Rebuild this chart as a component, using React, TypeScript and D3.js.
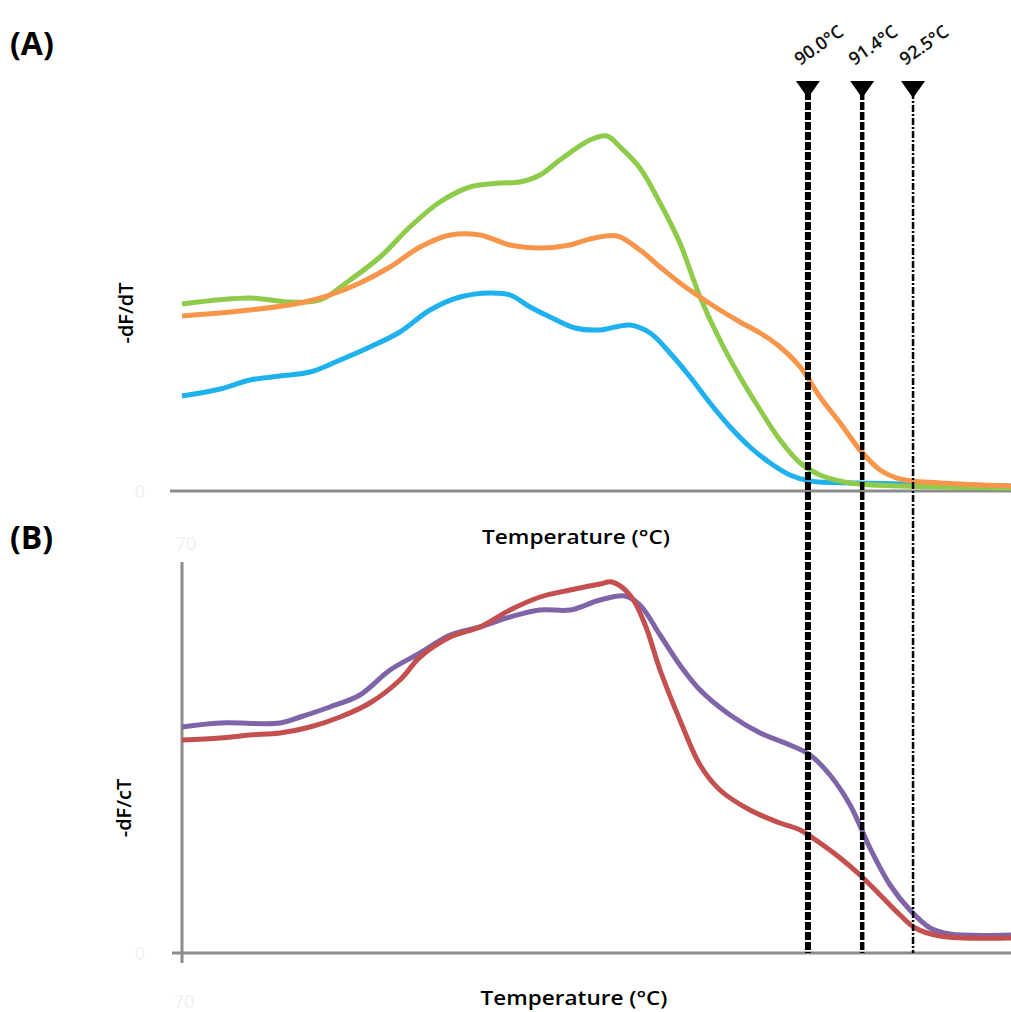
import React, { useEffect } from 'react';
import * as d3 from 'd3';

// temperature (°C) vs -dF/dT (arbitrary units, 0..100)
const greenA: [number, number][] = [
  [70, 46.75], [72.19, 48.25], [73.48, 47.25], [74.45, 47.75], [75.42, 52.75], [76.39, 58.5],
  [77.35, 66], [78.32, 72.25], [79.29, 76], [80.26, 77], [80.9, 77.25], [81.55, 79],
  [82.19, 82.75], [83.16, 87.75], [83.71, 88.75], [84.13, 86], [84.77, 80.75], [85.42, 72],
  [86.06, 62], [86.71, 48.5], [87.35, 37.75], [88.0, 28.5], [88.65, 20.25], [89.29, 12.75],
  [89.94, 7], [90.58, 4], [91.55, 2], [93.16, 1.25], [96.74, 0.75],
];

const orangeA: [number, number][] = [
  [70, 43.75], [72.19, 45.25], [73.81, 47], [74.77, 49], [75.74, 52], [76.71, 56],
  [77.68, 61], [78.65, 64], [79.61, 64], [80.58, 61.5], [81.55, 60.75], [82.52, 61.5],
  [83.16, 63], [84.03, 63.75], [84.77, 60.25], [85.42, 56], [86.06, 52], [86.71, 48.5],
  [87.35, 45.25], [88.0, 42.25], [88.65, 39.5], [89.29, 36], [89.94, 31], [90.58, 23.5],
  [91.23, 17], [91.87, 10.25], [92.52, 5.25], [93.16, 3], [94.45, 2], [96.74, 1.25],
];

const blueA: [number, number][] = [
  [70, 23.75], [71.23, 25.5], [72.19, 27.75], [73.16, 28.75], [74.13, 29.75], [75.1, 32.75],
  [76.06, 36], [77.03, 39.75], [78.0, 45.25], [78.97, 48.5], [79.94, 49.5], [80.58, 49],
  [81.23, 46], [81.87, 43.5], [82.68, 40.75], [83.48, 40.25], [84.45, 41.5], [85.1, 39.5],
  [85.74, 34.5], [86.39, 28.5], [87.03, 22], [87.68, 16], [88.32, 11], [88.97, 7],
  [89.61, 4], [90.26, 2.5], [91.87, 2], [96.74, 1.25],
];

const purpleB: [number, number][] = [
  [70, 56.5], [71.23, 57.5], [73.16, 57.5], [73.81, 59], [74.77, 61.5], [75.74, 64.5],
  [76.71, 70.75], [77.68, 75], [78.65, 79.5], [79.61, 81.5], [80.58, 84], [81.55, 85.75],
  [82.52, 85.75], [83.48, 88.25], [84.29, 89.25], [84.77, 87], [85.42, 79.5], [86.06, 72],
  [86.71, 65.75], [87.68, 59.5], [88.65, 55], [89.61, 52], [90.26, 49.5], [90.9, 44.5],
  [91.55, 37], [92.19, 26.25], [92.84, 17], [93.48, 10.75], [94.13, 6.25], [94.77, 4.75],
  [96.74, 4.5],
];

const redB: [number, number][] = [
  [70, 53.25], [71.23, 53.75], [72.19, 54.5], [73.16, 55], [74.13, 56.5], [75.1, 59],
  [76.06, 62.5], [77.03, 68.25], [77.68, 74], [78.65, 79], [79.61, 81.5], [80.58, 85.75],
  [81.55, 89], [82.52, 90.75], [83.48, 92.25], [83.87, 92.75], [84.45, 89.5], [84.94, 82],
  [85.42, 70.75], [86.06, 58.25], [86.71, 47], [87.35, 40.75], [88.32, 35.75], [89.29, 32.5],
  [89.94, 30.75], [90.58, 27.5], [91.23, 23.75], [91.87, 19.5], [92.52, 14.5], [93.16, 9.5],
  [93.65, 6.25], [94.45, 4.25], [96.74, 3.75],
];

// melting-point markers: where they sit on the axis, and what they say
const markerTemps = [90.19, 91.94, 93.58];
const markerLabels = ['90.0°C', '91.4°C', '92.5°C'];
const markerWidths = [6, 4.5, 2.5];

const xMin = 70;
const xMax = 96.74;
const xTickLabel = '70';
const yTickLabel = '0';
const xTitle = 'Temperature (°C)';
const yTitleA = '-dF/dT';
const yTitleB = '-dF/cT';

const W = 1011;
const H = 1012;
const font = '"Open Sans", "DejaVu Sans", sans-serif';
const axisColor = '#8c8c8c';

const App = () => {
  useEffect(() => {
    document.body.style.margin = '0';
  }, []);

  const x = d3.scaleLinear().domain([xMin, xMax]).range([182, 1011]);
  const yA = d3.scaleLinear().domain([0, 100]).range([491, 91]);
  const yB = d3.scaleLinear().domain([0, 100]).range([953, 553]);

  const lineA = d3.line<[number, number]>()
    .x(d => x(d[0]))
    .y(d => yA(d[1]))
    .curve(d3.curveCatmullRom.alpha(0.5));
  const lineB = d3.line<[number, number]>()
    .x(d => x(d[0]))
    .y(d => yB(d[1]))
    .curve(d3.curveCatmullRom.alpha(0.5));

  const seriesA = [
    { data: blueA, color: '#1fb0ee' },
    { data: greenA, color: '#8fcb4a' },
    { data: orangeA, color: '#f7964a' },
  ];
  const seriesB = [
    { data: purpleB, color: '#8064a8' },
    { data: redB, color: '#c3504f' },
  ];

  return (
    <svg width={W} height={H} style={{ position: 'absolute', left: 0, top: 0, background: '#fff' }}>
      {/* panel labels */}
      <text x={10} y={55} fontFamily={font} fontWeight={700} fontSize={32}>(A)</text>
      <text x={10} y={549} fontFamily={font} fontWeight={700} fontSize={32}>(B)</text>

      {/* panel A axis */}
      <line x1={170} x2={W} y1={yA(0)} y2={yA(0)} stroke={axisColor} strokeWidth={3} />
      <text x={140} y={yA(0) + 7} textAnchor="middle" fontFamily={font} fontSize={18} fill="#f0f0f0">{yTickLabel}</text>
      <text x={x(xMin) + 4} y={550} textAnchor="middle" fontFamily={font} fontSize={18} fill="#f0f0f0">{xTickLabel}</text>
      <text x={576} y={544} textAnchor="middle" fontFamily={font} fontWeight={600} fontSize={19}
        textLength={188} lengthAdjust="spacingAndGlyphs">{xTitle}</text>
      <text transform="translate(133,313) rotate(-90)" textAnchor="middle" fontFamily={font} fontWeight={600} fontSize={20}>{yTitleA}</text>

      {/* panel B axes */}
      <line x1={172} x2={W} y1={yB(0)} y2={yB(0)} stroke={axisColor} strokeWidth={3} />
      <line x1={x(xMin)} x2={x(xMin)} y1={562} y2={963} stroke={axisColor} strokeWidth={3} />
      <text x={140} y={yB(0) + 7} textAnchor="middle" fontFamily={font} fontSize={18} fill="#f0f0f0">{yTickLabel}</text>
      <text x={x(xMin) + 2} y={1008} textAnchor="middle" fontFamily={font} fontSize={18} fill="#f0f0f0">{xTickLabel}</text>
      <text x={574} y={1005} textAnchor="middle" fontFamily={font} fontWeight={600} fontSize={19}
        textLength={187} lengthAdjust="spacingAndGlyphs">{xTitle}</text>
      <text transform="translate(131,808) rotate(-90)" textAnchor="middle" fontFamily={font} fontWeight={600} fontSize={20}>{yTitleB}</text>

      {/* curves */}
      {seriesA.map((s, i) => (
        <path key={'a' + i} d={lineA(s.data) || ''} fill="none" stroke={s.color} strokeWidth={5} strokeLinejoin="round" />
      ))}
      {seriesB.map((s, i) => (
        <path key={'b' + i} d={lineB(s.data) || ''} fill="none" stroke={s.color} strokeWidth={5} strokeLinejoin="round" />
      ))}

      {/* marker lines */}
      {markerTemps.map((t, i) => {
        const mx = x(t);
        return (
          <g key={'m' + i}>
            <line x1={mx} x2={mx} y1={92} y2={yB(0)} stroke="#000" strokeWidth={markerWidths[i]}
              strokeDasharray={i === 2 ? '7,2,2,2' : '8,2'} />
            <path d={`M${mx - 12},81 L${mx + 12},81 L${mx},98 Z`} fill="#000" />
            <text transform={`translate(${mx - 8},66) rotate(-35)`} fontFamily={font} fontWeight={600} fontSize={18} fill="#111">
              {markerLabels[i]}
            </text>
          </g>
        );
      })}
    </svg>
  );
};

export default App;
